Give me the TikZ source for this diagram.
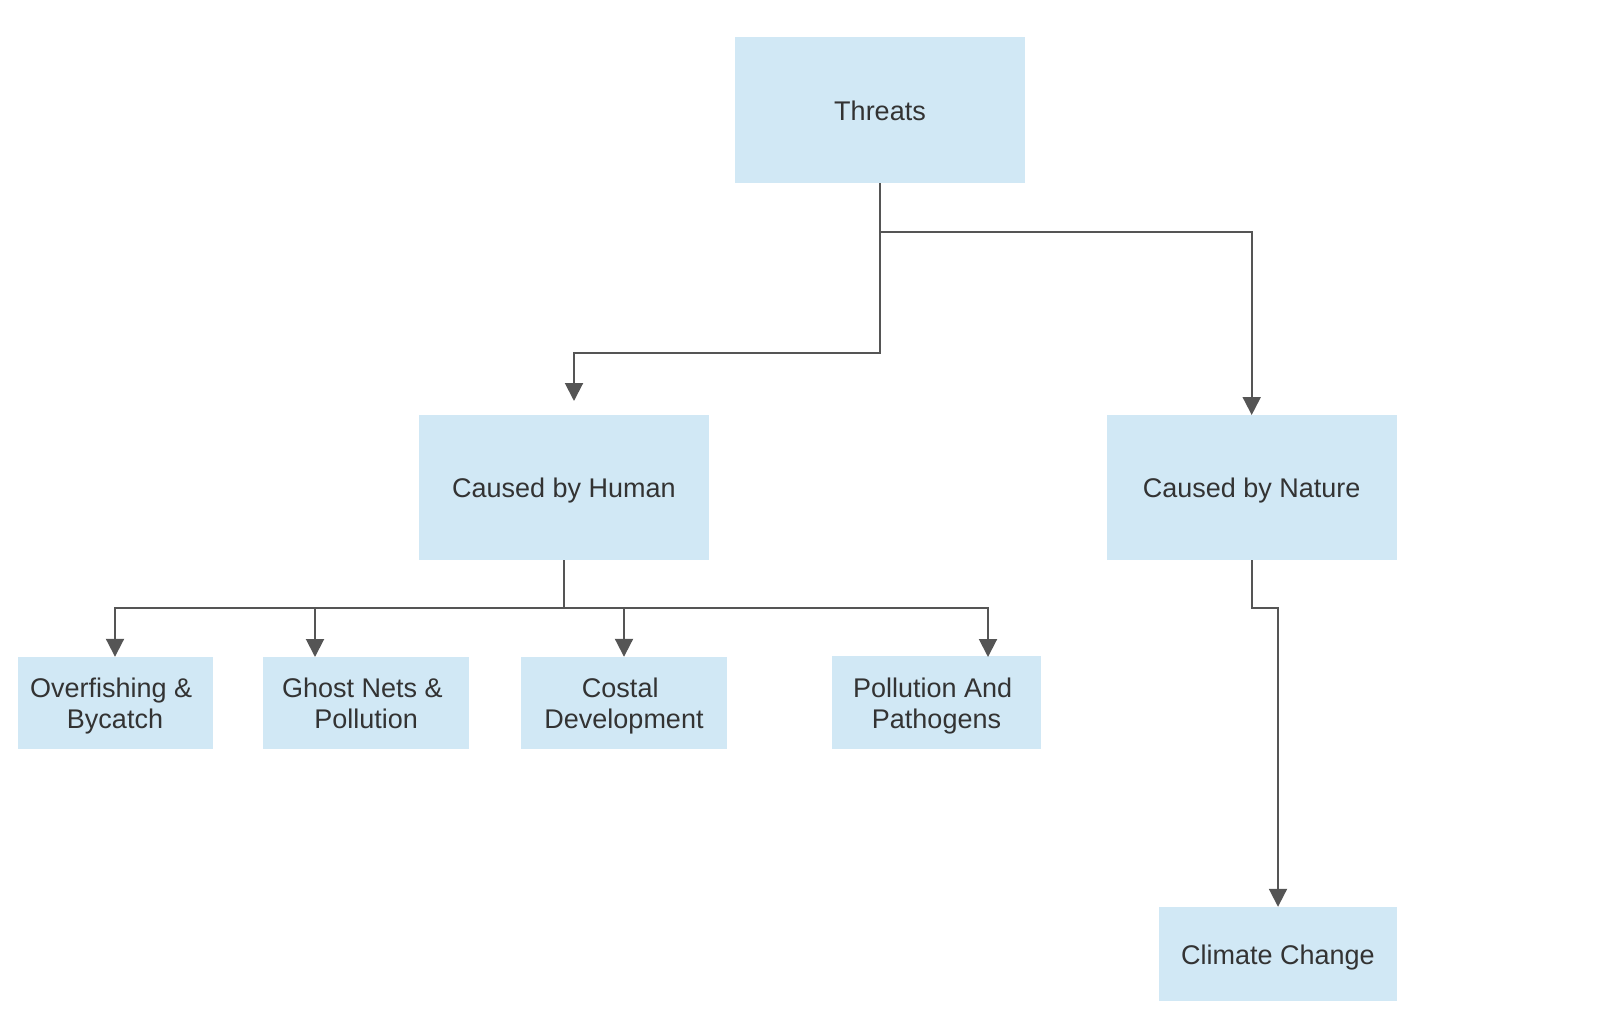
\documentclass[tikz,border=0pt]{standalone}
\usepackage{fontspec}
\setmainfont{Liberation Sans}
\usetikzlibrary{arrows.meta}
\definecolor{boxfill}{RGB}{209,232,245}
\definecolor{linecol}{RGB}{85,85,85}
\definecolor{txtcol}{RGB}{51,51,51}
\newcommand{\trsp}{\kern0.278em}
\tikzset{
  box/.style={fill=boxfill, draw=none, inner sep=0pt},
  boxtext/.style={inner sep=0pt, align=center, text=txtcol, yshift=-4pt,
    font=\fontsize{27}{30.8}\selectfont},
  conn/.style={draw=linecol, line width=2pt},
  arr/.style={conn, -{Triangle[length=18pt,width=18pt]}}
}
\begin{document}
\begin{tikzpicture}[x=1pt,y=-1pt]
\useasboundingbox (0,0) rectangle (1608,1032);
\node[box, minimum width=290pt, minimum height=146pt,
  label={[boxtext]center:\strut Threats\strut}] (threats) at (880,110) {};
\node[box, minimum width=290pt, minimum height=145pt,
  label={[boxtext]center:\strut Caused by Human\strut}] (human) at (564,487.7) {};
\node[box, minimum width=290pt, minimum height=145pt,
  label={[boxtext]center:\strut Caused by Nature\strut}] (nature) at (1251.7,487.7) {};
\node[box, minimum width=195pt, minimum height=92pt,
  label={[boxtext]center:\strut Overfishing \&\trsp\\Bycatch\strut}] (overfish) at (115,703) {};
\node[box, minimum width=205.5pt, minimum height=92pt,
  label={[boxtext]center:\strut Ghost Nets \&\trsp\\Pollution\strut}] (ghost) at (366.2,703) {};
\node[box, minimum width=205.5pt, minimum height=92pt,
  label={[boxtext]center:\strut Costal\trsp\\Development\strut}] (costal) at (624,703) {};
\node[box, minimum width=209pt, minimum height=93pt,
  label={[boxtext]center:\strut Pollution And\trsp\\Pathogens\strut}] (pollution) at (936.5,702.5) {};
\node[box, minimum width=237.5pt, minimum height=94pt,
  label={[boxtext]center:\strut Climate Change\strut}] (climate) at (1278,954) {};
% bend and end points
\coordinate (tj) at (880,231.7);
\coordinate (hbend) at (574,353);
\coordinate (hin) at (574,401);
\coordinate (hj) at (564,607.7);
\coordinate (gin) at (315,657);
\coordinate (pin) at (988,657);
\coordinate (nj) at (1251.7,607.7);
% connectors
\draw[arr] (threats.south) |- (hbend) -- (hin);
\draw[arr] (threats.south) -- (tj) -| (nature.north);
\draw[arr] (human.south) -- (hj) -| (overfish.north);
\draw[arr] (human.south) -- (hj) -| (gin);
\draw[arr] (human.south) -- (hj) -| (costal.north);
\draw[arr] (human.south) -- (hj) -| (pin);
\draw[arr] (nature.south) -- (nj) -| (climate.north);
\end{tikzpicture}
\end{document}
